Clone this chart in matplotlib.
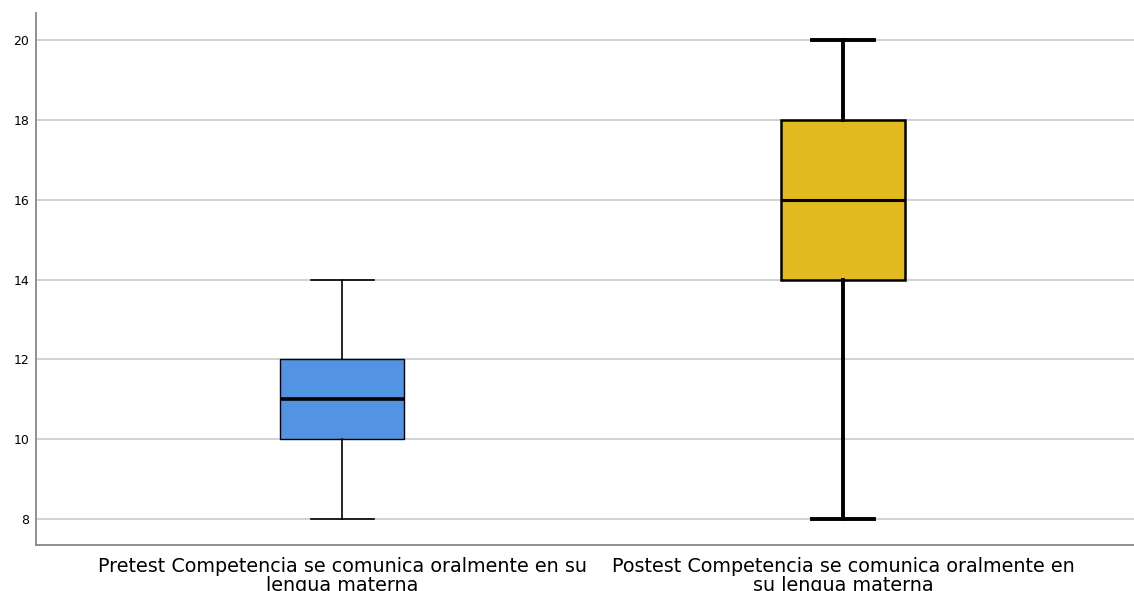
import matplotlib.pyplot as plt

# group labels and five-number summaries
labels = ['Pretest Competencia se comunica oralmente en su\nlengua materna',
          'Postest Competencia se comunica oralmente en\nsu lengua materna']
whislo = [8, 8]
q1 = [10, 14]
med = [11, 16]
q3 = [12, 18]
whishi = [14, 20]
colors = ['#5294E2', '#E0BA1F']
box_lw = [1.0, 1.8]
whisk_lw = [1.2, 2.8]
med_lw = [2.6, 2.2]

fig = plt.figure(figsize=(11.34, 5.91), dpi=100)
ax = fig.add_axes([0.032, 0.078, 0.968, 0.9])

for i in range(2):
    stats = [dict(whislo=whislo[i], q1=q1[i], med=med[i], q3=q3[i],
                  whishi=whishi[i], fliers=[])]
    ax.bxp(stats, positions=[i + 1], widths=0.248, capwidths=0.125,
           patch_artist=True, showfliers=False,
           boxprops=dict(facecolor=colors[i], edgecolor='black', linewidth=box_lw[i]),
           medianprops=dict(color='black', linewidth=med_lw[i]),
           whiskerprops=dict(color='black', linewidth=whisk_lw[i]),
           capprops=dict(color='black', linewidth=whisk_lw[i]), zorder=3)

ax.set_xlim(0.389, 2.581)
ax.set_ylim(7.35, 20.68)
ax.set_yticks([8, 10, 12, 14, 16, 18, 20])
ax.yaxis.grid(True, color='#cfcfcf', linewidth=1.3, zorder=0)
ax.set_axisbelow(True)
ax.set_xticks([1, 2])
ax.set_xticklabels(labels, fontsize=13.8, family='DejaVu Sans', linespacing=0.95)
for t in ax.get_yticklabels():
    t.set_fontsize(9)
    t.set_family('DejaVu Sans')
ax.tick_params(length=0, pad=5)
ax.tick_params(axis='x', pad=9)
for s in ['top', 'right']:
    ax.spines[s].set_visible(False)
for s in ['left', 'bottom']:
    ax.spines[s].set_color('#888888')
    ax.spines[s].set_linewidth(1.3)

fig.savefig('out.png', dpi=100)
